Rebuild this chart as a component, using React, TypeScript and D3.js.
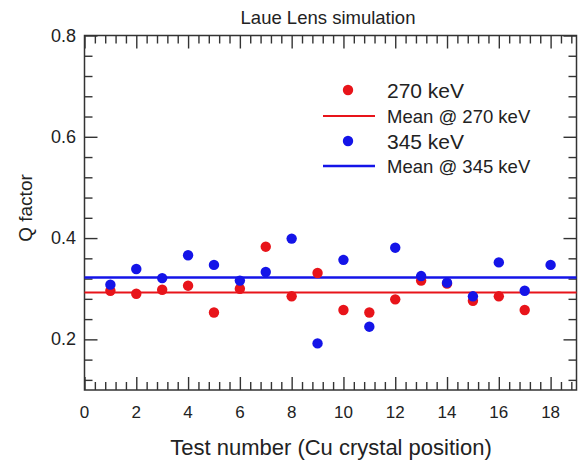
import * as React from 'react';
import * as d3 from 'd3';

const TEST_NUMBERS = d3.range(1, 19);
const Q_270 = [0.296, 0.29, 0.298, 0.306, 0.253, 0.3, 0.383, 0.285, 0.331, 0.258, 0.253, 0.279, 0.316, 0.31, 0.276, 0.285, 0.258];
const Q_345 = [0.308, 0.339, 0.321, 0.366, 0.347, 0.316, 0.333, 0.399, 0.192, 0.357, 0.225, 0.381, 0.325, 0.312, 0.285, 0.352, 0.296, 0.347];
const X_TICKS = [0, 2, 4, 6, 8, 10, 12, 14, 16, 18];
const Y_TICKS = [0.2, 0.4, 0.6, 0.8];
const LEGEND = ['270 keV', 'Mean @ 270 keV', '345 keV', 'Mean @ 345 keV'];

const RED = '#e8141a';
const BLUE = '#1414e8';
const FONT = '"Liberation Sans", Arial, sans-serif';

interface Dot {
    x: number;
    q: number;
}

export default function App() {
    const svgRef = React.useRef<SVGSVGElement>(null);

    React.useEffect(() => {
        const svg = d3.select(svgRef.current);
        svg.selectAll('*').remove();

        /** ******** Canvas ********* */
        const BOX = { left: 84.5, right: 576.5, top: 35.5, bottom: 390 };
        const xScale = d3.scaleLinear().domain([0, 19]).range([BOX.left, BOX.right]);
        const yScale = d3.scaleLinear().domain([0.1, 0.8]).range([BOX.bottom, BOX.top]);

        const red: Dot[] = Q_270.map((q, i) => ({ x: TEST_NUMBERS[i], q }));
        const blue: Dot[] = Q_345.map((q, i) => ({ x: TEST_NUMBERS[i], q }));

        /** ******** Ticks (inward, all four sides) ********* */
        const xMinor = d3.range(0, 19, 0.4).filter((v) => Math.abs(v / 2 - Math.round(v / 2)) > 1e-6);
        const yMinor = d3.range(0.12, 0.81, 0.04).filter((v) => Math.abs(v / 0.2 - Math.round(v / 0.2)) > 1e-6);
        const MAJOR = 13;
        const MINOR = 8;

        const axes = svg.append('g').attr('stroke', '#333').attr('stroke-width', 1.5);
        const addAxis = (axis: d3.Axis<d3.NumberValue>, tx: number, ty: number) => {
            const g = svg.append('g').attr('transform', `translate(${tx},${ty})`).call(axis);
            g.select('.domain').remove();
            g.selectAll('line').attr('stroke', '#333').attr('stroke-width', 1.4);
            g.selectAll('text').remove();
        };
        addAxis(d3.axisBottom(xScale).tickValues(X_TICKS).tickSize(-MAJOR), 0, BOX.bottom);
        addAxis(d3.axisBottom(xScale).tickValues(xMinor).tickSize(-MINOR), 0, BOX.bottom);
        addAxis(d3.axisTop(xScale).tickValues(X_TICKS).tickSize(-MAJOR), 0, BOX.top);
        addAxis(d3.axisTop(xScale).tickValues(xMinor).tickSize(-MINOR), 0, BOX.top);
        addAxis(d3.axisLeft(yScale).tickValues(Y_TICKS).tickSize(-MAJOR), BOX.left, 0);
        addAxis(d3.axisLeft(yScale).tickValues(yMinor).tickSize(-MINOR), BOX.left, 0);
        addAxis(d3.axisRight(yScale).tickValues(Y_TICKS).tickSize(-MAJOR), BOX.right, 0);
        addAxis(d3.axisRight(yScale).tickValues(yMinor).tickSize(-MINOR), BOX.right, 0);

        axes.append('rect')
            .attr('x', BOX.left)
            .attr('y', BOX.top)
            .attr('width', BOX.right - BOX.left)
            .attr('height', BOX.bottom - BOX.top)
            .attr('fill', 'none');

        // Tick labels
        svg.append('g')
            .selectAll('text')
            .data(X_TICKS)
            .enter()
            .append('text')
            .attr('x', (d) => xScale(d))
            .attr('y', 418)
            .attr('text-anchor', 'middle')
            .attr('font-family', FONT)
            .attr('font-size', 17)
            .attr('fill', '#222')
            .text((d) => d);
        svg.append('g')
            .selectAll('text')
            .data(Y_TICKS)
            .enter()
            .append('text')
            .attr('x', 76)
            .attr('y', (d) => yScale(d) + 6)
            .attr('text-anchor', 'end')
            .attr('font-family', FONT)
            .attr('font-size', 18)
            .attr('fill', '#222')
            .text((d) => d.toFixed(1));

        /** ******** Titles ********* */
        svg.append('text')
            .attr('x', 328)
            .attr('y', 24)
            .attr('text-anchor', 'middle')
            .attr('font-family', FONT)
            .attr('font-size', 18.5)
            .attr('fill', '#222')
            .text('Laue Lens simulation');
        svg.append('text')
            .attr('x', 331)
            .attr('y', 455)
            .attr('text-anchor', 'middle')
            .attr('font-family', FONT)
            .attr('font-size', 22)
            .attr('fill', '#222')
            .text('Test number (Cu crystal position)');
        svg.append('text')
            .attr('transform', 'translate(32,208) rotate(-90)')
            .attr('text-anchor', 'middle')
            .attr('font-family', FONT)
            .attr('font-size', 19)
            .attr('fill', '#222')
            .text('Q factor');

        /** ******** Mean lines ********* */
        const meanRed = d3.mean(Q_270)!;
        const meanBlue = d3.mean(Q_345)!;
        svg.append('line')
            .attr('x1', BOX.left).attr('x2', BOX.right)
            .attr('y1', yScale(meanRed)).attr('y2', yScale(meanRed))
            .attr('stroke', RED).attr('stroke-width', 2);
        svg.append('line')
            .attr('x1', BOX.left).attr('x2', BOX.right)
            .attr('y1', yScale(meanBlue)).attr('y2', yScale(meanBlue))
            .attr('stroke', BLUE).attr('stroke-width', 2.5);

        /** ******** Points ********* */
        const RADIUS = 5.2;
        svg.append('g')
            .selectAll('circle')
            .data(red)
            .enter()
            .append('circle')
            .attr('cx', (d: Dot) => xScale(d.x))
            .attr('cy', (d: Dot) => yScale(d.q))
            .attr('r', RADIUS)
            .attr('fill', RED);
        svg.append('g')
            .selectAll('circle')
            .data(blue)
            .enter()
            .append('circle')
            .attr('cx', (d: Dot) => xScale(d.x))
            .attr('cy', (d: Dot) => yScale(d.q))
            .attr('r', RADIUS)
            .attr('fill', BLUE);

        /** ******** Legend ********* */
        const LEG_Y = [90, 116, 141, 166];
        const leg = svg.append('g');
        leg.append('circle').attr('cx', 348).attr('cy', LEG_Y[0]).attr('r', RADIUS).attr('fill', RED);
        leg.append('line').attr('x1', 323).attr('x2', 375).attr('y1', LEG_Y[1]).attr('y2', LEG_Y[1])
            .attr('stroke', RED).attr('stroke-width', 2);
        leg.append('circle').attr('cx', 348).attr('cy', LEG_Y[2]).attr('r', RADIUS).attr('fill', BLUE);
        leg.append('line').attr('x1', 323).attr('x2', 375).attr('y1', LEG_Y[3]).attr('y2', LEG_Y[3])
            .attr('stroke', BLUE).attr('stroke-width', 2.5);
        leg.selectAll('text')
            .data(LEGEND)
            .enter()
            .append('text')
            .attr('x', 387)
            .attr('y', (_d, i) => LEG_Y[i])
            .attr('dy', (_d, i) => (i % 2 === 0 ? 7.5 : 6.5))
            .attr('font-family', FONT)
            .attr('font-size', (_d, i) => (i % 2 === 0 ? 21 : 18.5))
            .attr('fill', '#222')
            .text((d) => d);
    }, []);

    return (
        <svg
            ref={svgRef}
            width={579}
            height={461}
            style={{ position: 'absolute', left: 0, top: 0, background: '#fff' }}
        />
    );
}
